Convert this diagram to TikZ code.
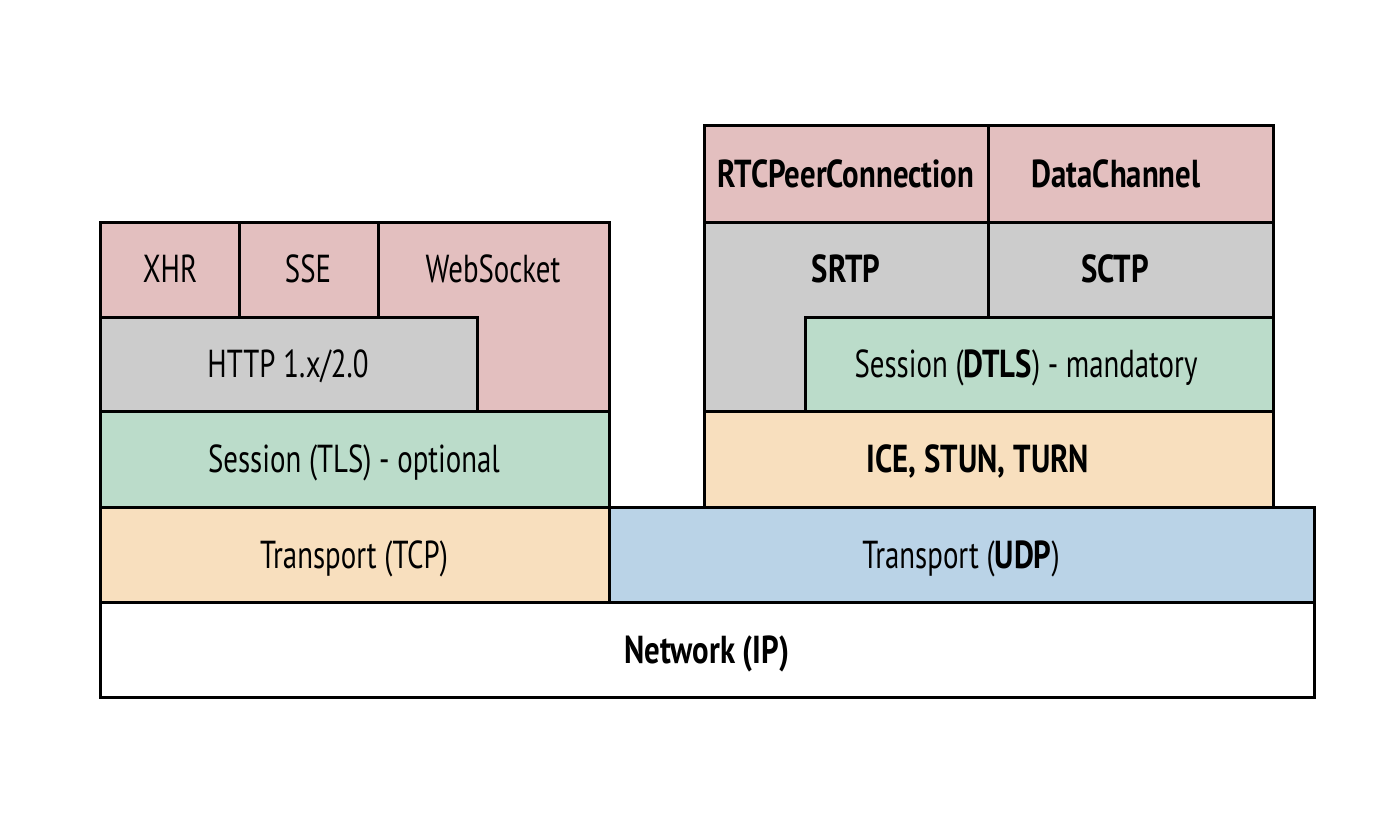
\documentclass[tikz,border=0pt]{standalone}
\usepackage{fontspec}
\setmainfont{PT Sans}[UprightFeatures={FakeStretch=0.74}, BoldFeatures={FakeStretch=0.79}]
\definecolor{pinkc}{HTML}{E3BFBF}
\definecolor{grayc}{HTML}{CCCCCC}
\definecolor{greenc}{HTML}{BBDCCA}
\definecolor{orangec}{HTML}{F8DFBE}
\definecolor{bluec}{HTML}{BAD3E7}
\begin{document}
\begin{tikzpicture}[x=1pt,y=-1pt,
  layer/.style={draw=black, line width=3pt, line join=miter},
  lbl/.style={font=\fontsize{39}{44}\selectfont, inner sep=0pt, anchor=base},
  blbl/.style={lbl, font=\fontsize{39}{44}\selectfont\bfseries}]
\useasboundingbox (0,0) rectangle (1394,840);
% Network
\draw[layer, fill=white] (100,602) rectangle (1314,697);
\node[blbl] (net) at (707,663) {Network (IP)};
% Transport TCP / UDP
\draw[layer, fill=orangec] (100,507) rectangle (609,602);
\node[lbl] (tcp) at (354,568) {Transport (TCP)};
\draw[layer, fill=bluec] (609,507) rectangle (1314,602);
\node[lbl] (udp) at (961,568) {Transport (\textbf{UDP})};
% Left stack
\draw[layer, fill=greenc] (100,411) rectangle (609,507);
\node[lbl] (tls) at (354,472) {Session (TLS) - optional};
\draw[layer, fill=pinkc] (378,222) -- (609,222) -- (609,411) -- (477,411) -- (477,317) -- (378,317) -- cycle;
\node[lbl] (ws) at (493,282) {WebSocket};
\draw[layer, fill=grayc] (100,317) rectangle (477,411);
\node[lbl] (http) at (288,377) {HTTP 1.x/2.0};
\draw[layer, fill=pinkc] (100,222) rectangle (239,317);
\node[lbl] (xhr) at (170,282) {XHR};
\draw[layer, fill=pinkc] (239,222) rectangle (378,317);
\node[lbl] (sse) at (308,282) {SSE};
% Right stack
\draw[layer, fill=orangec] (704,411) rectangle (1273,507);
\node[blbl] (ice) at (978,472) {ICE, STUN, TURN};
\draw[layer, fill=grayc] (704,222) -- (988,222) -- (988,317) -- (805,317) -- (805,411) -- (704,411) -- cycle;
\node[blbl] (srtp) at (846,282) {SRTP};
\draw[layer, fill=greenc] (805,317) rectangle (1273,411);
\node[lbl] (dtls) at (1026,377) {Session (\textbf{DTLS}) - mandatory};
\draw[layer, fill=grayc] (988,222) rectangle (1273,317);
\node[blbl] (sctp) at (1115,282) {SCTP};
\draw[layer, fill=pinkc] (704,126) rectangle (988,222);
\node[blbl] (rtc) at (846,187) {RTCPeerConnection};
\draw[layer, fill=pinkc] (988,126) rectangle (1273,222);
\node[blbl] (dc) at (1116,187) {DataChannel};
\end{tikzpicture}
\end{document}
